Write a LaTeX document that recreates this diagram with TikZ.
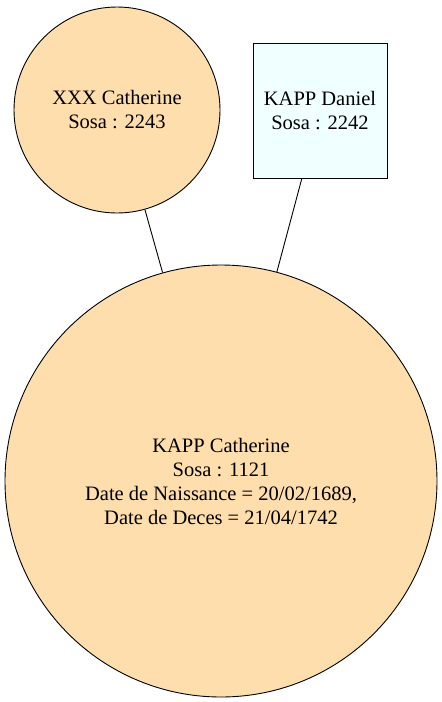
\documentclass[tikz,border=0pt]{standalone}
\usepackage{fontspec}
\setmainfont{Liberation Serif}
\definecolor{navaj}{HTML}{FFDEAD}
\definecolor{azur}{HTML}{F0FFFF}
\begin{document}
\begin{tikzpicture}[x=1pt,y=-1pt,
  person/.style={draw=black,line width=0.9pt,font=\fontsize{20.5}{24}\selectfont,align=center,inner sep=0pt},
  circ/.style={person,circle,fill=navaj},
  sq/.style={person,rectangle,fill=azur},
  link/.style={line width=0.9pt}]
\useasboundingbox (0,0) rectangle (442,702);
\node[circ,minimum size=206pt] (cat) at (117,110) {XXX Catherine\\Sosa : 2243};
\node[sq,minimum width=134pt,minimum height=135pt] (dan) at (320,110.5) {KAPP Daniel\\Sosa : 2242};
\node[circ,minimum size=432pt] (kc) at (221,481) {KAPP Catherine\\Sosa : 1121\\Date de Naissance = 20/02/1689,\\Date de Deces = 21/04/1742};
\draw[link] (cat) -- (kc);
\draw[link] (dan) -- (kc);
\end{tikzpicture}
\end{document}
